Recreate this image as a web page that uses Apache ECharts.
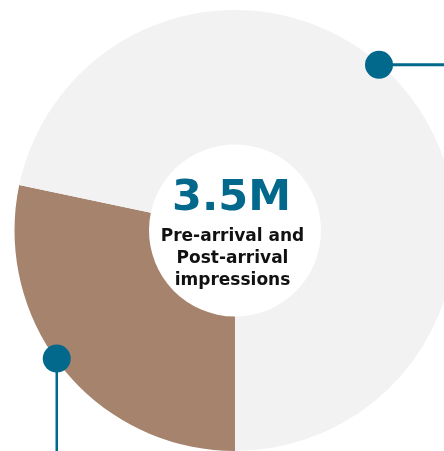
<!DOCTYPE html>
<html>
<head>
<meta charset="utf-8">
<script src="https://cdn.jsdelivr.net/npm/echarts@6/dist/echarts.min.js"></script>
<style>
html,body{margin:0;padding:0;background:#fff;}
#chart{width:444px;height:451px;}
</style>
</head>
<body>
<div id="chart"></div>
<script>
// Data
const categories = ['Pre-arrival', 'Post-arrival'];
const values = [28.3, 71.7];
const sliceColors = ['#a6836c', '#f2f2f2'];
const centerValue = '3.5M';
const centerLabel = 'Pre-arrival and\nPost-arrival\nimpressions';

// Layout constants
const CX = 235, CY = 230.5, R_OUT = 220.5, R_IN = 86;
const W = 444, H = 451;
const TEAL = '#02698d';
const markerAngles = [41, 234.3]; // compass degrees, clockwise from top

function pt(deg, r) {
  const a = deg * Math.PI / 180;
  return [CX + r * Math.sin(a), CY - r * Math.cos(a)];
}

const chart = echarts.init(document.getElementById('chart'), null, {renderer: 'canvas'});

const up = pt(markerAngles[0], R_OUT - 1);
const lo = pt(markerAngles[1], R_OUT - 1);

chart.setOption({
  animation: false,
  backgroundColor: '#fff',
  series: [{
    type: 'pie',
    center: [CX, CY],
    radius: [R_IN, R_OUT],
    startAngle: 270,
    clockwise: true,
    silent: true,
    label: {show: false},
    labelLine: {show: false},
    emphasis: {disabled: true},
    data: categories.map((c, i) => ({name: c, value: values[i], itemStyle: {color: sliceColors[i]}}))
  }],
  graphic: [
    {type: 'line', z: 10, shape: {x1: up[0], y1: up[1], x2: W, y2: up[1]}, style: {stroke: TEAL, lineWidth: 3}},
    {type: 'circle', z: 11, shape: {cx: up[0], cy: up[1], r: 14}, style: {fill: TEAL}},
    {type: 'line', z: 10, shape: {x1: lo[0], y1: lo[1], x2: lo[0], y2: H}, style: {stroke: TEAL, lineWidth: 2.5}},
    {type: 'circle', z: 11, shape: {cx: lo[0], cy: lo[1], r: 14}, style: {fill: TEAL}},
    {type: 'text', z: 12, x: 231.5, y: 199, style: {
      text: centerValue, fill: TEAL, font: 'bold 43px "DejaVu Sans"', textAlign: 'center', textVerticalAlign: 'middle'
    }},
    {type: 'text', z: 12, x: 232.5, y: 259, style: {
      text: centerLabel, fill: '#111', font: 'bold 17px "DejaVu Sans"', lineHeight: 22, textAlign: 'center', textVerticalAlign: 'middle'
    }}
  ]
});
</script>
</body>
</html>
